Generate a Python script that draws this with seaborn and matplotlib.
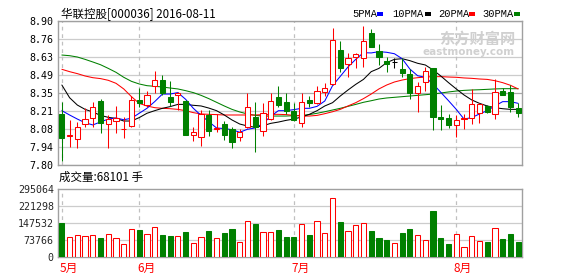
import numpy as np
import pandas as pd
import matplotlib
matplotlib.use("Agg")
import matplotlib.pyplot as plt
import matplotlib.transforms as mtransforms
import seaborn as sns

# ---------------- data ----------------
title = "华联控股[000036] 2016-08-11"
vol_title = "成交量:68101 手"

open_ = [8.187, 8.022, 7.999, 8.113, 8.157, 8.289, 8.111, 8.139, 8.073, 8.101,
         8.297, 8.256, 8.404, 8.449, 8.317, 8.332, 8.289, 8.027, 8.017, 8.182,
         8.078, 8.113, 8.075, 8.017, 8.088, 8.169, 8.060, 8.151, 8.317, 8.281,
         8.213, 8.118, 8.297, 8.276, 8.360, 8.416, 8.678, 8.569, 8.622, 8.615,
         8.806, 8.671, 8.594, 8.589, 8.533, 8.495, 8.353, 8.437, 8.538, 8.164,
         8.157, 8.103, 8.150, 8.157, 8.195, 8.251, 8.187, 8.368, 8.360, 8.233]
high = [8.284, 8.144, 8.131, 8.233, 8.284, 8.304, 8.182, 8.251, 8.169, 8.327,
        8.386, 8.365, 8.518, 8.488, 8.442, 8.360, 8.297, 8.093, 8.220, 8.220,
        8.190, 8.136, 8.093, 8.073, 8.353, 8.284, 8.271, 8.348, 8.404, 8.348,
        8.276, 8.353, 8.327, 8.404, 8.424, 8.850, 8.747, 8.653, 8.658, 8.862,
        8.836, 8.724, 8.628, 8.620, 8.620, 8.531, 8.437, 8.551, 8.543, 8.258,
        8.187, 8.182, 8.187, 8.378, 8.276, 8.258, 8.454, 8.386, 8.411, 8.271]
low = [7.833, 7.940, 7.932, 8.088, 8.093, 8.047, 7.932, 8.042, 8.004, 8.093,
       8.246, 8.241, 8.348, 8.335, 8.251, 8.220, 8.027, 7.986, 7.945, 8.022,
       8.050, 7.991, 7.927, 7.986, 8.080, 7.897, 8.024, 8.144, 8.241, 8.187,
       8.139, 8.088, 8.241, 8.266, 8.327, 8.411, 8.513, 8.475, 8.543, 8.546,
       8.699, 8.564, 8.513, 8.538, 8.475, 8.302, 8.207, 8.365, 8.067, 8.067,
       8.080, 8.011, 8.078, 8.113, 8.118, 8.195, 8.151, 8.332, 8.207, 8.169]
close = [8.004, 8.028, 8.093, 8.149, 8.241, 8.118, 8.151, 8.162, 8.077, 8.297,
         8.271, 8.332, 8.447, 8.353, 8.284, 8.350, 8.032, 8.052, 8.190, 8.062,
         8.082, 8.029, 7.978, 8.050, 8.246, 8.088, 8.200, 8.286, 8.256, 8.213,
         8.144, 8.279, 8.271, 8.368, 8.391, 8.755, 8.543, 8.615, 8.648, 8.747,
         8.704, 8.628, 8.572, 8.589, 8.500, 8.353, 8.406, 8.521, 8.169, 8.154,
         8.106, 8.144, 8.156, 8.266, 8.264, 8.202, 8.360, 8.337, 8.241, 8.195]
volume = [150000, 87000, 95000, 91000, 95000, 84000, 100000, 82000, 56000, 121000,
          119000, 100000, 130000, 97000, 93000, 91000, 110000, 61000, 87000, 114000,
          82000, 106000, 123000, 67000, 156000, 146000, 108000, 108000, 119000, 88000,
          88000, 145000, 97000, 156000, 106000, 256000, 153000, 113000, 139000, 147000,
          114000, 84000, 75000, 61000, 107000, 123000, 95000, 74000, 201000, 84000,
          58000, 101000, 43000, 91000, 69000, 67000, 126000, 80000, 101000, 68101]

ma5 = [8.215, 8.182, 8.151, 8.123, 8.106, 8.129, 8.151, 8.159, 8.146, 8.157,
       8.195, 8.233, 8.284, 8.342, 8.342, 8.353, 8.302, 8.233, 8.179, 8.131,
       8.083, 8.078, 8.070, 8.050, 8.073, 8.083, 8.116, 8.172, 8.215, 8.215,
       8.223, 8.233, 8.233, 8.248, 8.289, 8.406, 8.477, 8.549, 8.607, 8.658,
       8.656, 8.666, 8.661, 8.650, 8.612, 8.533, 8.482, 8.470, 8.419, 8.355,
       8.291, 8.225, 8.151, 8.162, 8.190, 8.215, 8.251, 8.284, 8.284, 8.271]
ma10 = [8.411, 8.314, 8.258, 8.225, 8.205, 8.179, 8.164, 8.156, 8.136, 8.136,
        8.162, 8.195, 8.215, 8.233, 8.246, 8.263, 8.263, 8.256, 8.251, 8.235,
        8.215, 8.182, 8.144, 8.113, 8.098, 8.088, 8.100, 8.118, 8.128, 8.141,
        8.151, 8.167, 8.187, 8.215, 8.251, 8.276, 8.327, 8.373, 8.416, 8.454,
        8.513, 8.538, 8.582, 8.607, 8.612, 8.597, 8.577, 8.564, 8.526, 8.480,
        8.429, 8.381, 8.335, 8.297, 8.271, 8.251, 8.238, 8.230, 8.225, 8.225]
ma20 = [8.531, 8.513, 8.498, 8.480, 8.467, 8.460, 8.447, 8.424, 8.381, 8.322,
        8.271, 8.251, 8.238, 8.233, 8.230, 8.225, 8.215, 8.200, 8.190, 8.187,
        8.185, 8.182, 8.182, 8.182, 8.182, 8.182, 8.185, 8.187, 8.187, 8.185,
        8.179, 8.174, 8.174, 8.179, 8.192, 8.207, 8.225, 8.251, 8.276, 8.307,
        8.342, 8.381, 8.411, 8.434, 8.449, 8.460, 8.467, 8.472, 8.475, 8.475,
        8.472, 8.470, 8.465, 8.462, 8.457, 8.454, 8.444, 8.429, 8.409, 8.381]
ma30 = [8.640, 8.635, 8.625, 8.607, 8.587, 8.566, 8.538, 8.508, 8.470, 8.439,
        8.419, 8.406, 8.401, 8.396, 8.388, 8.381, 8.368, 8.353, 8.332, 8.307,
        8.279, 8.251, 8.225, 8.205, 8.190, 8.179, 8.174, 8.174, 8.174, 8.174,
        8.177, 8.179, 8.185, 8.195, 8.207, 8.220, 8.233, 8.248, 8.263, 8.279,
        8.291, 8.304, 8.312, 8.317, 8.322, 8.327, 8.332, 8.337, 8.342, 8.350,
        8.358, 8.365, 8.370, 8.373, 8.375, 8.378, 8.381, 8.383, 8.383, 8.383]

ma_names = ["5PMA", "10PMA", "20PMA", "30PMA"]
ma_colors = ["#0000ff", "#000000", "#ff0000", "#008000"]

price_tick_labels = ["8.90", "8.76", "8.63", "8.49", "8.35", "8.21", "8.08", "7.94", "7.80"]
vol_tick_values = [0, 73766, 147532, 221298, 295064]
month_labels = ["5月", "6月", "7月", "8月"]
month_start_idx = [0, 10, 30, 51]

# ---------------- style ----------------
sns.set_style("white")
plt.rcParams["font.family"] = ["DejaVu Sans Mono", "Noto Sans CJK SC"]
CJK = ["Noto Sans CJK SC", "DejaVu Sans"]

W, H = 578, 276
fig = plt.figure(figsize=(W / 100, H / 100), dpi=100)
fig.patch.set_facecolor("white")


def fx(px):
    return px / W


def fy(py):
    return 1 - py / H


ax = fig.add_axes([fx(58), fy(165), fx(522) - fx(58), fy(21) - fy(165)])
axv = fig.add_axes([fx(58), fy(257.3), fx(522) - fx(58), fy(189.3) - fy(257.3)])

RED = "#ff0000"
GREEN = "#008000"
GRID = "#cccccc"
FRAME = "#a0a0a0"
EDGE_LW = 0.75

n = len(close)
x = np.arange(n)
o = np.array(open_)
c = np.array(close)
hi = np.array(high)
lo = np.array(low)
up = c >= o
doji = np.isclose(c, o)
cand_col = np.where(doji, "#000000", np.where(up, RED, GREEN))

# ---------------- price panel ----------------
ax.set_xlim(-0.5, n - 0.5)
ax.set_ylim(7.80, 8.90)
tick_pos = np.linspace(8.90, 7.80, len(price_tick_labels))
ax.set_yticks(tick_pos)
ax.set_yticklabels(price_tick_labels)
ax.set_xticks([])
ax.tick_params(axis="y", length=0, pad=3, labelsize=7.2, colors="#000000")
for yv in tick_pos:
    ax.axhline(yv, color=GRID if abs(yv - 8.35) > 1e-6 else "#a8a8a8", lw=0.9, zorder=0)
for mi in month_start_idx:
    ax.axvline(mi, color="#c0c0c0", lw=0.9, ls=(0, (3, 3)), zorder=0)

# watermark
ax.text(0.985, 0.875, "东方财富网", transform=ax.transAxes, ha="right", va="center",
        fontsize=11, color="#d0d0d0", family=CJK, fontweight="bold", zorder=1)
ax.text(0.985, 0.785, "eastmoney.com", transform=ax.transAxes, ha="right", va="center",
        fontsize=7.5, color="#d0d0d0", family=["DejaVu Sans"], fontweight="bold", zorder=1)

# moving averages via seaborn
df_ma = pd.DataFrame({
    "x": np.tile(x, 4),
    "val": np.concatenate([ma5, ma10, ma20, ma30]),
    "ma": np.repeat(ma_names, n),
})
sns.lineplot(data=df_ma, x="x", y="val", hue="ma", palette=dict(zip(ma_names, ma_colors)),
             hue_order=ma_names[::-1], lw=0.75, legend=False, ax=ax, zorder=4,
             estimator=None, sort=False)

# wicks
ax.vlines(x, lo, hi, colors=cand_col, lw=EDGE_LW, zorder=5)
# bodies
bw = 0.68
bottoms = np.minimum(o, c)
heights = np.abs(c - o)
for i in range(n):
    if doji[i]:
        ax.hlines(o[i], x[i] - bw / 2, x[i] + bw / 2, colors="#000000", lw=EDGE_LW, zorder=6)
    elif up[i]:
        ax.bar(x[i], heights[i], bottom=bottoms[i], width=bw, facecolor="white",
               edgecolor=RED, lw=EDGE_LW, zorder=6)
    else:
        ax.bar(x[i], heights[i], bottom=bottoms[i], width=bw, facecolor=GREEN,
               edgecolor=GREEN, lw=EDGE_LW, zorder=6)
ax.set_xlabel("")
ax.set_ylabel("")
for s in ax.spines.values():
    s.set_color(FRAME)
    s.set_linewidth(1.0)
    s.set_visible(True)

# ---------------- volume panel ----------------
axv.set_xlim(-0.5, n - 0.5)
axv.set_ylim(0, vol_tick_values[-1])
axv.set_yticks(vol_tick_values)
axv.set_yticklabels([str(v) for v in vol_tick_values])
axv.set_xticks([])
axv.tick_params(axis="y", length=0, pad=3, labelsize=7.2)
for yv in vol_tick_values[1:-1]:
    axv.axhline(yv, color=GRID, lw=0.9, zorder=0)
for mi in month_start_idx:
    axv.axvline(mi, color="#c0c0c0", lw=0.9, ls=(0, (3, 3)), zorder=0)
vol = np.array(volume, dtype=float)
axv.bar(x[up], vol[up], width=bw, facecolor="white", edgecolor=RED, lw=EDGE_LW, zorder=3)
axv.bar(x[~up], vol[~up], width=bw, facecolor=GREEN, edgecolor=GREEN, lw=EDGE_LW, zorder=3)
for s in axv.spines.values():
    s.set_color(FRAME)
    s.set_linewidth(1.0)
    s.set_visible(True)

trans = mtransforms.blended_transform_factory(axv.transData, fig.transFigure)
for lab, mi in zip(month_labels, month_start_idx):
    axv.text(mi - 0.3, fy(268), lab, transform=trans, ha="left", va="center",
             fontsize=8.5, color=RED, family=CJK)

# ---------------- texts ----------------
fig.text(fx(61), fy(14), title, ha="left", va="center", fontsize=8.3, family=CJK, color="#000000")
fig.text(fx(59), fy(177.5), vol_title, ha="left", va="center", fontsize=8.3, family=CJK, color="#000000")

leg_x = [352, 392, 438, 482]
sq_x = [377, 425, 469, 514]
for name, col, tx, sx in zip(ma_names, ma_colors, leg_x, sq_x):
    fig.text(fx(tx), fy(14), name, ha="left", va="center", fontsize=7.5,
             family=["Liberation Mono", "DejaVu Sans Mono"], color="#000000")
    fig.patches.append(plt.Rectangle((fx(sx), fy(15.5)), fx(6), 3 / H, transform=fig.transFigure,
                                     facecolor=col, edgecolor="none"))

fig.savefig("out.png", dpi=100, facecolor="white")
